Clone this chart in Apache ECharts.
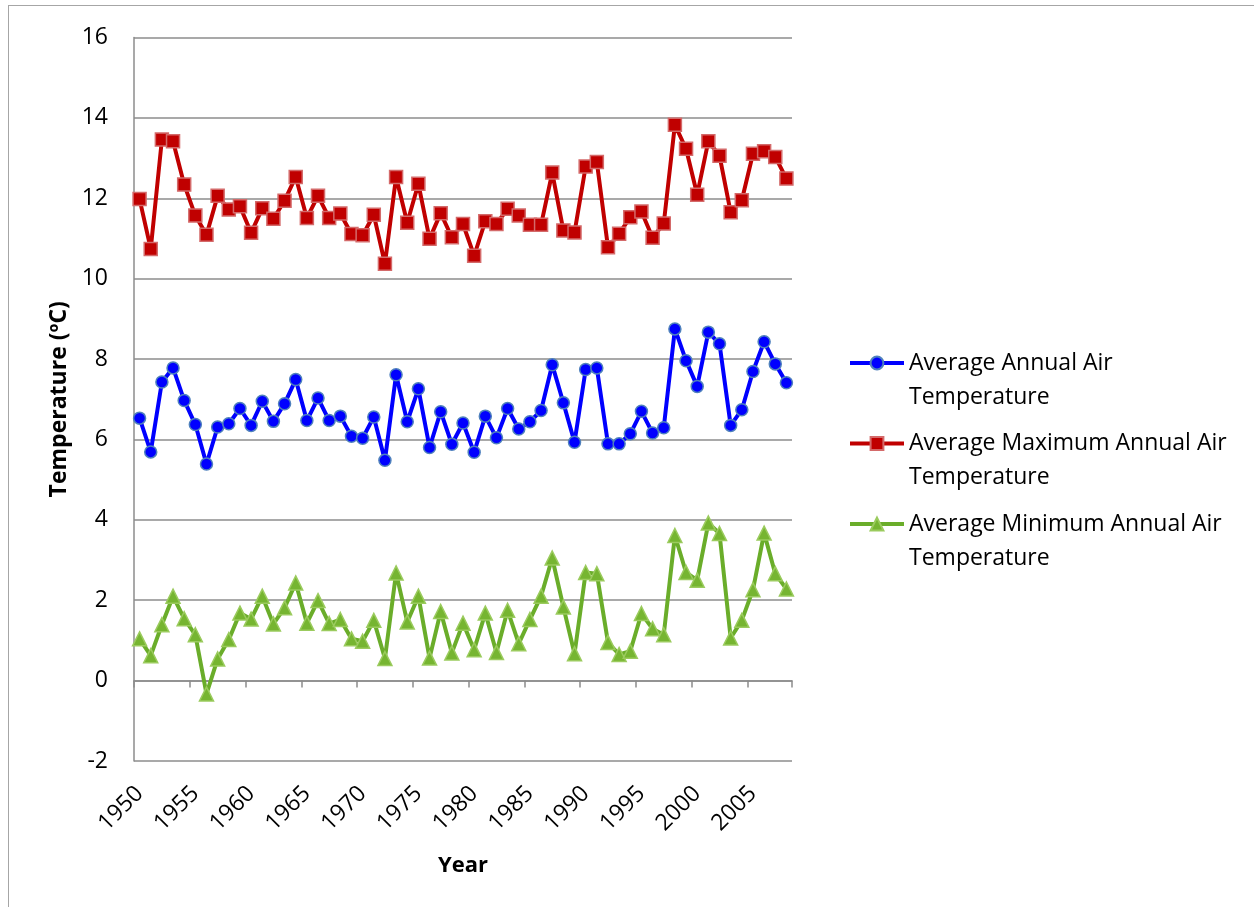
<!DOCTYPE html>
<html>
<head>
<meta charset="utf-8">
<script src="https://cdn.jsdelivr.net/npm/echarts@6/dist/echarts.min.js"></script>
<style>
html,body{margin:0;padding:0;background:#fff;overflow:hidden;}
#frame{position:absolute;left:8px;top:5px;width:1400px;height:1000px;border:1.5px solid #a6a6a6;box-sizing:border-box;}
#chart{position:absolute;left:0;top:0;width:1254px;height:907px;}
</style>
</head>
<body>
<div id="frame"></div>
<div id="chart"></div>
<script>
const years = ['1950','1951','1952','1953','1954','1955','1956','1957','1958','1959',
  '1960','1961','1962','1963','1964','1965','1966','1967','1968','1969',
  '1970','1971','1972','1973','1974','1975','1976','1977','1978','1979',
  '1980','1981','1982','1983','1984','1985','1986','1987','1988','1989',
  '1990','1991','1992','1993','1994','1995','1996','1997','1998','1999',
  '2000','2001','2002','2003','2004','2005','2006','2007','2008'];

const avgTemp = [6.53,5.69,7.43,7.78,6.97,6.37,5.39,6.31,6.39,6.77,
  6.35,6.95,6.45,6.89,7.49,6.47,7.03,6.47,6.58,6.08,
  6.03,6.56,5.48,7.61,6.44,7.26,5.80,6.69,5.88,6.41,
  5.68,6.58,6.04,6.77,6.26,6.44,6.72,7.86,6.91,5.93,
  7.74,7.78,5.89,5.89,6.14,6.70,6.16,6.29,8.75,7.96,
  7.32,8.67,8.38,6.35,6.74,7.69,8.43,7.88,7.41];

const maxTemp = [11.98,10.74,13.46,13.42,12.34,11.57,11.09,12.06,11.72,11.80,
  11.14,11.75,11.49,11.94,12.53,11.51,12.06,11.51,11.62,11.11,
  11.08,11.59,10.37,12.53,11.39,12.36,10.99,11.63,11.03,11.36,
  10.57,11.43,11.36,11.74,11.57,11.34,11.34,12.64,11.20,11.15,
  12.79,12.90,10.78,11.12,11.53,11.67,11.02,11.37,13.83,13.23,
  12.09,13.42,13.06,11.65,11.95,13.11,13.17,13.03,12.49];

const minTemp = [1.04,0.62,1.39,2.10,1.54,1.14,-0.33,0.54,1.02,1.68,
  1.53,2.10,1.41,1.81,2.43,1.43,1.99,1.42,1.52,1.04,
  0.98,1.50,0.55,2.68,1.46,2.10,0.56,1.72,0.69,1.43,
  0.77,1.68,0.70,1.75,0.92,1.52,2.10,3.05,1.83,0.67,
  2.69,2.66,0.95,0.65,0.73,1.67,1.29,1.14,3.61,2.69,
  2.50,3.92,3.66,1.06,1.50,2.26,3.67,2.66,2.28];

const seriesNames = ['Average Annual Air Temperature','Average Maximum Annual Air Temperature','Average Minimum Annual Air Temperature'];
const legendLines = {
  'Average Annual Air Temperature': 'Average Annual Air\nTemperature',
  'Average Maximum Annual Air Temperature': 'Average Maximum Annual Air\nTemperature',
  'Average Minimum Annual Air Temperature': 'Average Minimum Annual Air\nTemperature'
};
const yTicks = {min: -2, max: 16, interval: 2};

const FONT = 'Open Sans';
const chart = echarts.init(document.getElementById('chart'), null, {renderer: 'canvas'});
const grey = '#8c8c8c';

const option = {
  animation: false,
  backgroundColor: 'transparent',
  grid: {left: 134, top: 37.5, right: 462, bottom: 146, containLabel: false},
  legend: {
    orient: 'vertical',
    left: 848,
    top: 312,
    padding: 0,
    itemWidth: 54,
    itemHeight: 16,
    itemGap: -21.5,
    data: seriesNames,
    lineStyle: {width: 4},
    formatter: function (name) { return ' \n' + legendLines[name]; },
    textStyle: {fontFamily: FONT, fontSize: 23, color: '#000', lineHeight: 34}
  },
  xAxis: [
    {
      type: 'category', data: years, boundaryGap: true,
      axisLine: {show: true, onZero: true, lineStyle: {color: grey, width: 1.5}},
      axisTick: {show: true, interval: 4, length: 7, lineStyle: {color: grey, width: 1.5}},
      axisLabel: {show: false},
      splitLine: {show: false}
    },
    {
      type: 'category', data: years, boundaryGap: true, position: 'bottom',
      axisLine: {show: false, onZero: false},
      axisTick: {show: false},
      axisLabel: {show: true, interval: 4, rotate: 45, margin: 29, fontFamily: FONT, fontSize: 23, color: '#000'},
      splitLine: {show: false},
      name: 'Year', nameLocation: 'middle', nameGap: 94,
      nameTextStyle: {fontFamily: FONT, fontSize: 22, fontWeight: 'bold', color: '#000'}
    }
  ],
  yAxis: {
    type: 'value', min: yTicks.min, max: yTicks.max, interval: yTicks.interval,
    axisLine: {show: true, lineStyle: {color: grey, width: 1.5}},
    axisTick: {show: false},
    axisLabel: {fontFamily: FONT, fontSize: 23, color: '#000', margin: 26},
    splitLine: {show: true, lineStyle: {color: grey, width: 1.5}},
    name: 'Temperature (ºC)', nameLocation: 'middle', nameGap: 60, nameRotate: 90,
    nameTextStyle: {fontFamily: FONT, fontSize: 23, fontWeight: 'bold', color: '#000'}
  },
  series: [
    {
      name: seriesNames[0], type: 'line', xAxisIndex: 0, data: avgTemp,
      symbol: 'circle', symbolSize: 12, showSymbol: true, showAllSymbol: true,
      lineStyle: {color: '#0000ff', width: 4},
      itemStyle: {color: '#0000ff', borderColor: '#4f81bd', borderWidth: 1.5}
    },
    {
      name: seriesNames[1], type: 'line', xAxisIndex: 0, data: maxTemp,
      symbol: 'rect', symbolSize: 13, showSymbol: true, showAllSymbol: true,
      lineStyle: {color: '#c00000', width: 4},
      itemStyle: {color: '#c00000', borderColor: '#d46a6a', borderWidth: 1.5}
    },
    {
      name: seriesNames[2], type: 'line', xAxisIndex: 0, data: minTemp,
      symbol: 'triangle', symbolSize: 14, showSymbol: true, showAllSymbol: true,
      lineStyle: {color: '#6aad2a', width: 4},
      itemStyle: {color: '#76b531', borderColor: '#9bcb5e', borderWidth: 1.5}
    }
  ]
};
chart.setOption(option);
</script>
</body>
</html>
